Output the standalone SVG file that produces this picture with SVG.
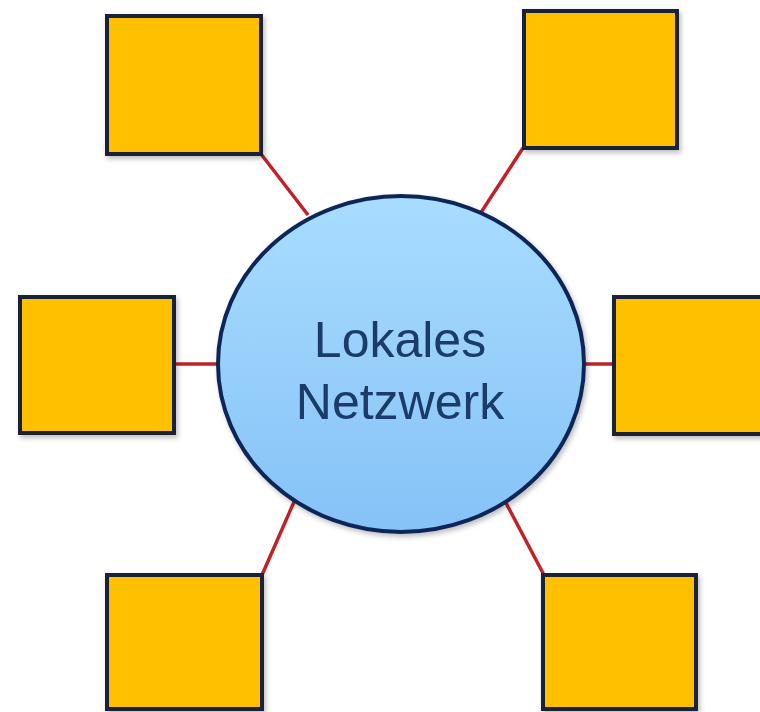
<svg xmlns="http://www.w3.org/2000/svg" width="760" height="712" viewBox="0 0 760 712">
<defs>
<linearGradient id="g" x1="0" y1="0" x2="0" y2="1">
<stop offset="0" stop-color="#a8ddff"/>
<stop offset="1" stop-color="#86c2f7"/>
</linearGradient>
<filter id="sh" x="-10%" y="-10%" width="125%" height="125%">
<feDropShadow dx="2" dy="3" stdDeviation="2.5" flood-color="#000" flood-opacity="0.25"/>
</filter>
</defs>
<style>
.box{fill:#ffc000;stroke:#1b2235;stroke-width:4;filter:url(#sh)}
.edge{stroke:#c0222a;stroke-width:3.5;fill:none}
.hub{fill:url(#g);stroke:#0f2858;stroke-width:4;filter:url(#sh)}
.lbl{font-family:"Liberation Sans",Arial,sans-serif;font-size:50px;fill:#1b3b68;text-anchor:middle}
</style>
<rect width="760" height="712" fill="#fff"/>
<g id="connectors">
<line class="edge" x1="261" y1="154" x2="308" y2="215"/>
<line class="edge" x1="523" y1="148" x2="480" y2="214"/>
<line class="edge" x1="174" y1="364" x2="220" y2="364"/>
<line class="edge" x1="582" y1="364" x2="614" y2="364"/>
<line class="edge" x1="262" y1="575" x2="294" y2="502"/>
<line class="edge" x1="506" y1="503" x2="544" y2="575"/>
</g>
<g id="hub">
<ellipse class="hub" cx="401" cy="364" rx="183" ry="168"/>
<text class="lbl" x="400" y="357">Lokales</text>
<text class="lbl" x="400" y="419">Netzwerk</text>
</g>
<g id="box-top-left"><rect class="box" x="107" y="16" width="154" height="138"/></g>
<g id="box-top-right"><rect class="box" x="524" y="11" width="153" height="137"/></g>
<g id="box-left"><rect class="box" x="20" y="297" width="154" height="136"/></g>
<g id="box-right"><rect class="box" x="614" y="297" width="152" height="137"/></g>
<g id="box-bottom-left"><rect class="box" x="107" y="575" width="155" height="134"/></g>
<g id="box-bottom-right"><rect class="box" x="543" y="575" width="153" height="134"/></g>
</svg>
